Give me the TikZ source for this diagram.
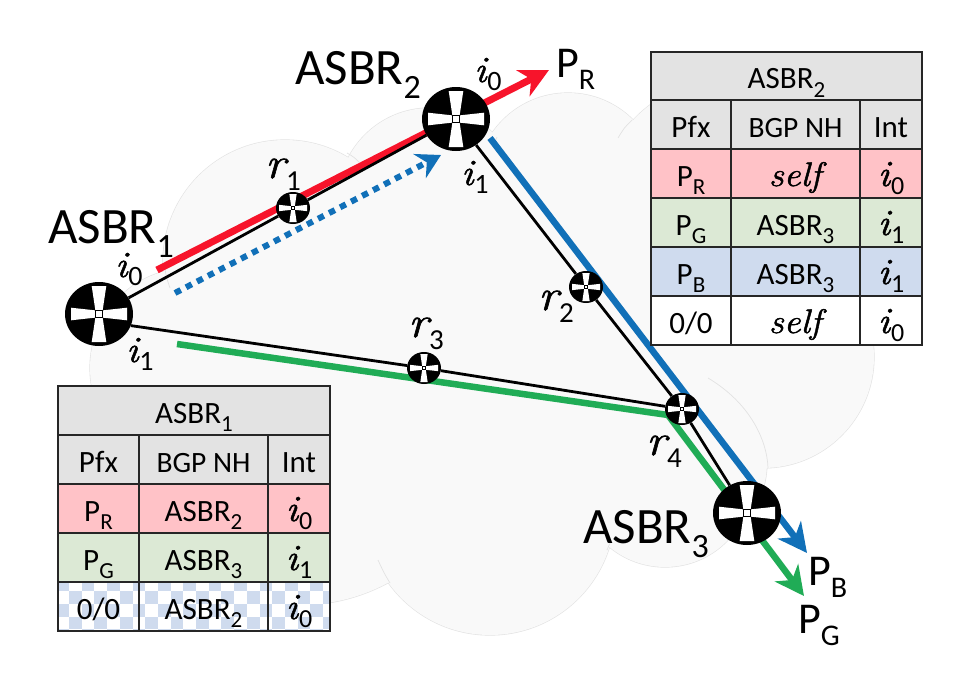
\documentclass[tikz,border=0pt]{standalone}
\usepackage{fontspec}
\setmainfont{Carlito}
\newfontfamily\lmrm{Latin Modern Roman}[ItalicFeatures={FakeBold=1.4,FakeStretch=1.1}]
\newcommand{\mi}[1]{{\lmrm\itshape #1}\kern1pt}
\newcommand{\ii}{{\fontsize{37}{37}\selectfont\mi{i}}}
\usetikzlibrary{arrows.meta,shapes.geometric}
\definecolor{cloudfill}{HTML}{F9F9F9}
\definecolor{cloudline}{HTML}{E2E2E2}
\definecolor{cred}{HTML}{F7142B}
\definecolor{cblue}{HTML}{1170B8}
\definecolor{cgreen}{HTML}{20AC56}
\definecolor{tgray}{HTML}{E3E3E3}
\definecolor{tpink}{HTML}{FFC2C7}
\definecolor{tgreen}{HTML}{DCE9D5}
\definecolor{tblue}{HTML}{CFDBEE}
\newcommand{\lbl}[4]{{\fontsize{#1}{#1}\selectfont #3\raisebox{-0.28\dimexpr #1pt\relax}{\fontsize{#2}{#2}\selectfont #4}}}
\newcommand{\cellbox}[7]{\path[tcell,fill=#6] (#2,#3) rectangle node[celltext] (#1) {#7} (#4,#5);}
\newcommand{\rtr}[4]{%
  \node[routerbody,minimum width=#4*68pt,minimum height=#4*64pt] (#1) at (#2,#3) {};
  \begin{scope}[shift={(#2,#3)},scale=#4]
    \fill[white] (-7.3,-28)--(7.3,-28)--(3.6,-3.4)--(-3.6,-3.4)--cycle;
    \fill[white] (-7.3,28)--(7.3,28)--(3.6,3.4)--(-3.6,3.4)--cycle;
    \fill[white] (-28,-6.3)--(-28,6.3)--(-3.4,3.6)--(-3.4,-3.6)--cycle;
    \fill[white] (28,-6.3)--(28,6.3)--(3.4,3.6)--(3.4,-3.6)--cycle;
    \draw[black,line width=#4*1pt,fill=white] (-3.4,-3.4) rectangle (3.4,3.4);
  \end{scope}}
\tikzset{
  routerbody/.style={ellipse,fill=black,inner sep=0pt,draw=none},
  tcell/.style={draw=black!85,line width=1.1pt},
  celltext/.style={inner sep=0pt,text height=25pt,text depth=0pt,anchor=center,font=\fontsize{31}{31}\selectfont},
  lab/.style={inner sep=0pt,anchor=base west},
  link/.style={draw=black,line width=2.8pt},
  hook/.style={draw=cloudline,line width=.7pt},
  redtip/.style={-{Stealth[length=29pt,width=29pt,inset=9pt]}},
  smalltip/.style={-{Stealth[length=24pt,width=27pt,inset=8pt]}},
}
\begin{document}
\begin{tikzpicture}[x=1pt,y=-1pt]
\useasboundingbox (0,0) rectangle (958,686);
\fill[white] (0,0) rectangle (958,686);
% cloud
\foreach \cx/\cy/\r in {285/262/122,430/200/92,568/185/92,720/200/118,763/357/111,672/462/95,665/480/87,490/510/125,300/420/185,190/368/100}
  \draw[cloudline,line width=1.2pt] (\cx,\cy) circle[radius=\r pt];
\foreach \cx/\cy/\r in {285/262/122,430/200/92,568/185/92,720/200/118,763/357/111,672/462/95,665/480/87,490/510/125,300/420/185,190/368/100}
  \fill[cloudfill] (\cx,\cy) circle[radius=\r pt];
\fill[cloudfill] (285,262)--(430,200)--(568,185)--(720,200)--(763,357)--(672,462)--(490,510)--(300,420)--(190,368)--cycle;
\draw[hook] (165,268) .. controls (166,276) .. (170,288);
\draw[hook] (347,153) .. controls (354,157) .. (361,164);
\draw[hook] (497,137) .. controls (495,141) .. (493,146);
\draw[hook] (632,120) .. controls (624,128) .. (618,138);
\draw[hook] (708,378) .. controls (750,403) and (767,440) .. (768,468);
\draw[hook] (390,583) .. controls (384,573) .. (378,560);
\draw[hook] (610,543) .. controls (609,546) .. (607,550);
% coloured routes (free ends)
\coordinate (redS) at (157,270);
\coordinate (redE) at (549,70);
\coordinate (dotS) at (175,293);
\coordinate (dotE) at (441,155);
\coordinate (bluS) at (490,138);
\coordinate (bluE) at (807,553);
\coordinate (grnS) at (177,344);
\coordinate (grnM) at (668,415);
\coordinate (grnE) at (804,596);
\draw[cred,line width=7pt,redtip] (redS) -- (redE);
\draw[cblue,line width=6pt,smalltip,dash pattern=on 6.5pt off 5.9pt] (dotS) -- (dotE);
\draw[cblue,line width=6.5pt,redtip] (bluS) -- (bluE);
\draw[cgreen,line width=6.5pt,redtip,line join=miter] (grnS) -- (grnM) -- (grnE);
% routers
\rtr{A1}{99}{314}{1}
\rtr{A2}{456}{119}{1}
\rtr{A3}{747}{513}{1}
\rtr{r1}{293}{208}{.5}
\rtr{r2}{586}{287}{.5}
\rtr{r3}{424}{368}{.5}
\rtr{r4}{682}{409}{.5}
% links
\draw[link] (A1) -- (r1);
\draw[link] (r1) -- (A2);
\draw[link] (A2) -- (r2);
\draw[link] (r2) -- (r4);
\draw[link] (r4) -- (A3);
\draw[link] (A1.-20) -- (r3);
\draw[link] (r3) -- (r4);
% labels
\node[lab] (lA1) at (48,243) {\lbl{51}{34}{ASBR}{1}};
\node[lab] (lA2) at (295,84) {\lbl{51}{34}{ASBR}{2}};
\node[lab] (lA3) at (583,543) {\lbl{51}{34}{ASBR}{3}};
\node[lab] (lPR) at (556,77) {\lbl{44}{30}{P}{R}};
\node[lab] (lPB) at (808,585) {\lbl{44}{30}{P}{B}};
\node[lab] (lPG) at (798,633) {\lbl{44}{30}{P}{G}};
\node[lab] (i01) at (115,277) {\lbl{31}{28}{\ii}{0}};
\node[lab] (i11) at (126,362) {\lbl{31}{28}{\ii}{1}};
\node[lab] (i02) at (474,82) {\lbl{31}{28}{\ii}{0}};
\node[lab] (i12) at (461,185) {\lbl{31}{28}{\ii}{1}};
\node[lab] (lr1) at (265,178) {\lbl{44}{29}{\mi{r}}{1}};
\node[lab] (lr2) at (538,310) {\lbl{44}{29}{\mi{r}}{2}};
\node[lab] (lr3) at (408,337) {\lbl{44}{29}{\mi{r}}{3}};
\node[lab] (lr4) at (646,455) {\lbl{44}{29}{\mi{r}}{4}};
% table ASBR1
\cellbox{ta0}{58}{386}{330}{435}{tgray}{\lbl{31}{23}{ASBR}{1}}
\cellbox{ta1}{58}{435}{139}{484}{tgray}{Pfx}
\cellbox{ta2}{139}{435}{268}{484}{tgray}{\fontsize{29.5}{30}\selectfont BGP NH}
\cellbox{ta3}{268}{435}{330}{484}{tgray}{Int}
\cellbox{ta4}{58}{484}{139}{533}{tpink}{\lbl{31}{23}{P}{R}}
\cellbox{ta5}{139}{484}{268}{533}{tpink}{\lbl{31}{23}{ASBR}{2}}
\cellbox{ta6}{268}{484}{330}{533}{tpink}{\lbl{31}{26}{\ii}{0}}
\cellbox{ta7}{58}{533}{139}{582}{tgreen}{\lbl{31}{23}{P}{G}}
\cellbox{ta8}{139}{533}{268}{582}{tgreen}{\lbl{31}{23}{ASBR}{3}}
\cellbox{ta9}{268}{533}{330}{582}{tgreen}{\lbl{31}{26}{\ii}{1}}
\begin{scope}
  \clip (58,582) rectangle (330,631);
  \fill[white] (58,582) rectangle (330,631);
  \foreach \i in {0,...,21} \foreach \j in {0,...,4} {
    \pgfmathtruncatemacro{\evn}{mod(\i+\j,2)}
    \ifnum\evn=0
      \fill[tblue] (56.3+12.7*\i,578.6+12.7*\j) rectangle (56.3+12.7*\i+12.7,578.6+12.7*\j+12.7);
    \fi
  }
\end{scope}
\path[tcell] (58,582) rectangle node[celltext] (ta10) {0/0} (139,631);
\path[tcell] (139,582) rectangle node[celltext] (ta11) {\lbl{31}{23}{ASBR}{2}} (268,631);
\path[tcell] (268,582) rectangle node[celltext] (ta12) {\lbl{31}{26}{\ii}{0}} (330,631);
% table ASBR2
\cellbox{tb0}{651}{52}{922}{100}{tgray}{\lbl{31}{23}{ASBR}{2}}
\cellbox{tb1}{651}{100}{731}{149}{tgray}{Pfx}
\cellbox{tb2}{731}{100}{860}{149}{tgray}{\fontsize{29.5}{30}\selectfont BGP NH}
\cellbox{tb3}{860}{100}{922}{149}{tgray}{Int}
\cellbox{tb4}{651}{149}{731}{198}{tpink}{\lbl{31}{23}{P}{R}}
\cellbox{tb5}{731}{149}{860}{198}{tpink}{\fontsize{34}{34}\selectfont\mi{self}}
\cellbox{tb6}{860}{149}{922}{198}{tpink}{\lbl{31}{26}{\ii}{0}}
\cellbox{tb7}{651}{198}{731}{247}{tgreen}{\lbl{31}{23}{P}{G}}
\cellbox{tb8}{731}{198}{860}{247}{tgreen}{\lbl{31}{23}{ASBR}{3}}
\cellbox{tb9}{860}{198}{922}{247}{tgreen}{\lbl{31}{26}{\ii}{1}}
\cellbox{tb10}{651}{247}{731}{296}{tblue}{\lbl{31}{23}{P}{B}}
\cellbox{tb11}{731}{247}{860}{296}{tblue}{\lbl{31}{23}{ASBR}{3}}
\cellbox{tb12}{860}{247}{922}{296}{tblue}{\lbl{31}{26}{\ii}{1}}
\cellbox{tb13}{651}{296}{731}{345}{white}{0/0}
\cellbox{tb14}{731}{296}{860}{345}{white}{\fontsize{34}{34}\selectfont\mi{self}}
\cellbox{tb15}{860}{296}{922}{345}{white}{\lbl{31}{26}{\ii}{0}}
\end{tikzpicture}
\end{document}
